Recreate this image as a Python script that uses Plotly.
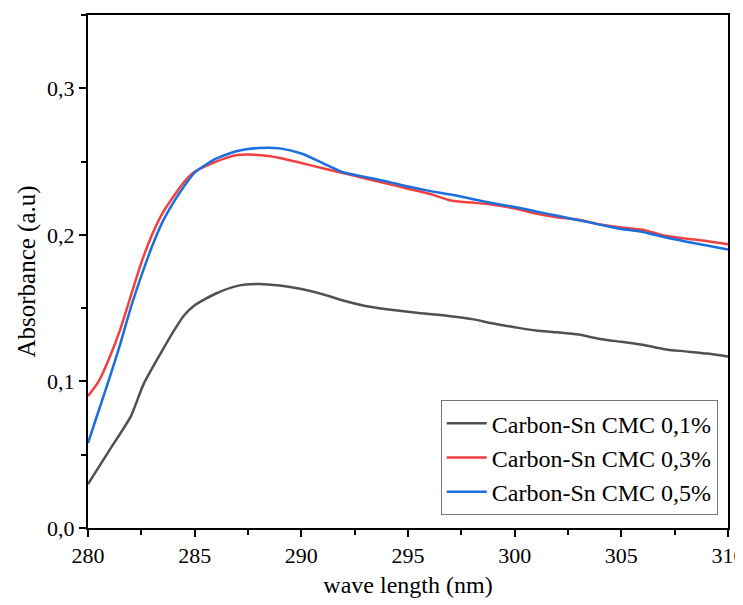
import plotly.graph_objects as go

wl_01 = [280, 281, 282, 282.6, 283.4, 284, 284.5, 285, 286, 287, 288, 289, 290, 291, 292, 293, 294, 295, 296, 297, 298, 299, 300, 301, 302, 303, 304, 305, 306, 307, 308, 309, 310]
abs_01 = [0.030, 0.053, 0.076, 0.098, 0.119, 0.134, 0.145, 0.152, 0.160, 0.1652, 0.1665, 0.1654, 0.163, 0.1595, 0.155, 0.1515, 0.1493, 0.1475, 0.146, 0.1445, 0.1425, 0.1395, 0.137, 0.1347, 0.1335, 0.132, 0.129, 0.127, 0.125, 0.122, 0.1205, 0.119, 0.117]

wl_03 = [280, 280.5, 281, 281.5, 282, 282.5, 283, 283.5, 284, 284.5, 285, 286, 287, 288, 289, 290, 291, 292, 293, 294, 295, 296, 297, 298, 299, 300, 301, 302, 303, 304, 305, 306, 307, 308, 309, 310]
abs_03 = [0.090, 0.100, 0.116, 0.135, 0.158, 0.181, 0.200, 0.215, 0.226, 0.236, 0.243, 0.250, 0.2545, 0.2545, 0.2525, 0.249, 0.2455, 0.242, 0.2385, 0.235, 0.2315, 0.228, 0.2235, 0.2220, 0.2205, 0.218, 0.2145, 0.212, 0.2103, 0.207, 0.2050, 0.2035, 0.1995, 0.1975, 0.1958, 0.1935]

wl_05 = [280, 280.5, 281, 281.5, 282, 282.5, 283, 283.5, 284, 284.5, 285, 286, 287, 288, 289, 290, 291, 292, 293, 294, 295, 296, 297, 298, 299, 300, 301, 302, 303, 304, 305, 306, 307, 308, 309, 310]
abs_05 = [0.058, 0.080, 0.102, 0.125, 0.150, 0.172, 0.192, 0.209, 0.222, 0.233, 0.2425, 0.252, 0.2572, 0.2593, 0.2590, 0.2555, 0.2490, 0.2425, 0.2395, 0.2365, 0.2330, 0.2300, 0.2275, 0.2245, 0.2215, 0.2190, 0.2160, 0.2130, 0.2100, 0.2070, 0.2040, 0.2020, 0.1985, 0.1955, 0.1928, 0.1900]

names = ["Carbon-Sn CMC 0,1%", "Carbon-Sn CMC 0,3%", "Carbon-Sn CMC 0,5%"]
colors = ["#515151", "#F14040", "#1A6FDF"]

fig = go.Figure()
for xs, ys, n, c in [(wl_01, abs_01, names[0], colors[0]),
                     (wl_03, abs_03, names[1], colors[1]),
                     (wl_05, abs_05, names[2], colors[2])]:
    fig.add_trace(go.Scatter(x=xs, y=ys, mode="lines", name=n,
                             line=dict(color=c, width=2.5, shape="spline", smoothing=0.6)))

font_family = "Liberation Serif"
fig.update_layout(
    width=743, height=597,
    margin=dict(l=80, r=23, t=7, b=77),
    paper_bgcolor="white", plot_bgcolor="white",
    separators=", ",
    font=dict(family=font_family, size=22, color="black"),
    showlegend=True,
    legend=dict(x=0.984, y=0.025, xanchor="right", yanchor="bottom",
                bordercolor="#777777", borderwidth=1, bgcolor="white",
                font=dict(family=font_family, size=24, color="black"),
                tracegroupgap=0, itemwidth=40),
)
fig.update_xaxes(
    range=[280, 310], tickvals=[280, 285, 290, 295, 300, 305, 310],
    ticks="outside", ticklen=7, tickwidth=2, tickcolor="black",
    minor=dict(ticks="outside", ticklen=5, tickwidth=2, tickcolor="black", dtick=2.5, tick0=280, showgrid=False),
    showline=True, linecolor="black", linewidth=2, mirror=True,
    showgrid=False, zeroline=False, automargin=False,
    title=dict(text="wave length (nm)", font=dict(family=font_family, size=24), standoff=9),
    tickfont=dict(family=font_family, size=22),
)
fig.update_yaxes(
    range=[0, 0.35], tickvals=[0.0, 0.1, 0.2, 0.3], tickformat=".1f",
    ticks="outside", ticklen=7, tickwidth=2, tickcolor="black",
    minor=dict(ticks="outside", ticklen=5, tickwidth=2, tickcolor="black", dtick=0.05, tick0=0, showgrid=False),
    showline=True, linecolor="black", linewidth=2, mirror=True,
    showgrid=False, zeroline=False, automargin=False,
    title=dict(text="Absorbance (a.u)", font=dict(family=font_family, size=25), standoff=4),
    tickfont=dict(family=font_family, size=22),
)

fig.write_html("out.html")
